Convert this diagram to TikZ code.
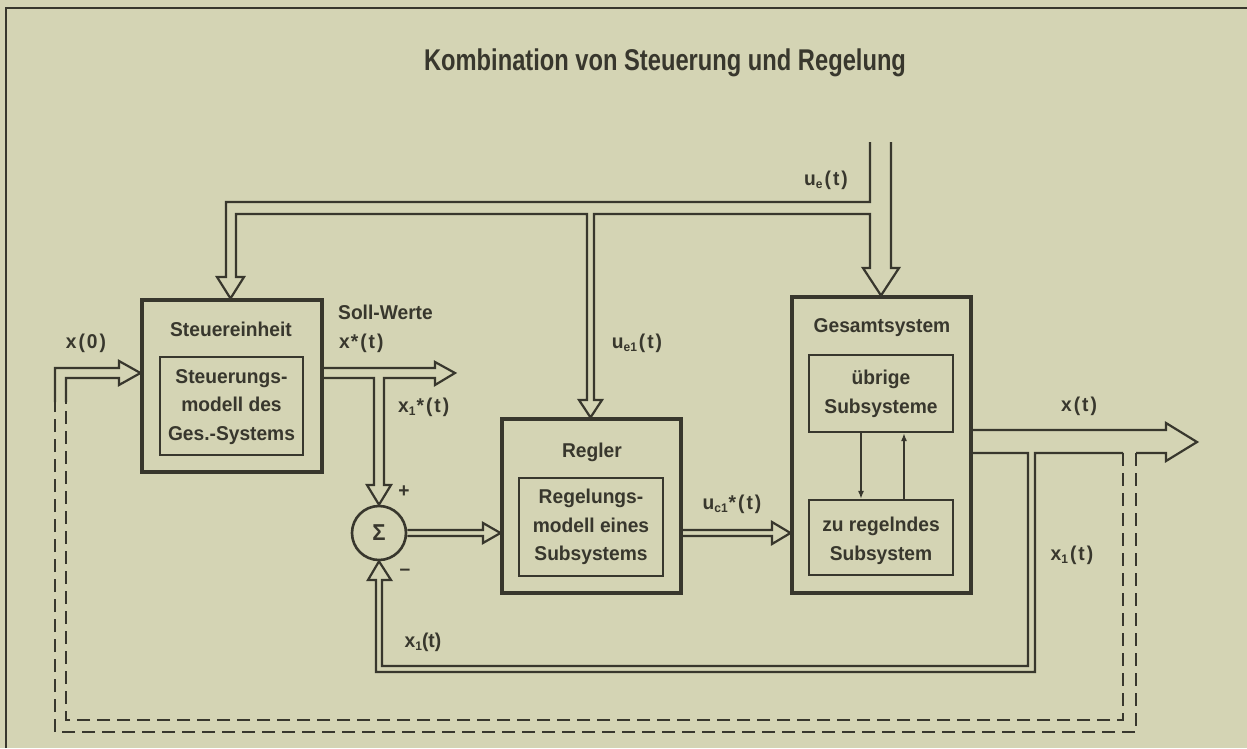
\documentclass[tikz,border=0pt]{standalone}
\usepackage{fontspec}
\setmainfont{Liberation Sans}[FakeStretch=0.96]
\newfontfamily\titlefont{Liberation Sans}[FakeStretch=0.79]
\usetikzlibrary{arrows.meta}
\definecolor{bg}{RGB}{212,212,180}
\definecolor{ink}{RGB}{56,55,45}
\newcommand\lsub[1]{\raisebox{-0.35ex}{\fontsize{12.5}{12.5}\selectfont #1}}
\newcommand\gp{\kern2pt}
\begin{document}
\begin{tikzpicture}[x=1pt,y=-1pt,
  every node/.style={text=ink, inner sep=0pt, font=\fontsize{20}{28.7}\selectfont\bfseries},
  obox/.style={draw=ink, line width=3.1pt, rectangle},
  ibox/.style={draw=ink, line width=2.1pt, rectangle},
  conn/.style={draw=ink, line width=2.2pt, line join=miter},
  dconn/.style={draw=ink, line width=2.2pt, dash pattern=on 13pt off 7pt},
  thinarr/.style={draw=ink, line width=1.6pt, -{Latex[length=8pt,width=6pt]}}]
\fill[bg] (0,0) rectangle (1247,748);
\useasboundingbox (0,0) rectangle (1247,748);
\draw[ink, line width=2.6pt] (6,748) -- (6,8) -- (1247,8);

% title
\node[anchor=base] (title) at (665,70) {\titlefont\fontsize{30}{32}\selectfont\bfseries Kombination von Steuerung und Regelung};

% Steuereinheit
\node[obox, minimum width=180pt, minimum height=172pt] (steuer) at (232,386) {};
\node[ibox, minimum width=143pt, minimum height=98pt] (steuerin) at (231.5,406) {};
\node (steuerT) at (231,329) {Steuereinheit};
\node[align=center] (steuerM) at (231.5,407) {Steuerungs-\\modell des\\Ges.-Systems};

% Regler
\node[obox, minimum width=179pt, minimum height=174pt] (regler) at (591.5,506) {};
\node[ibox, minimum width=144pt, minimum height=98pt] (reglerin) at (591,527) {};
\node (reglerT) at (592,452) {Regler};
\node[align=center] (reglerM) at (591,527) {Regelungs-\\modell eines\\Subsystems};

% Gesamtsystem
\node[obox, minimum width=179pt, minimum height=296pt] (gesamt) at (881.5,445) {};
\node[ibox, minimum width=144pt, minimum height=77pt] (uebrig) at (881,393.5) {};
\node[ibox, minimum width=144pt, minimum height=75pt] (zuregel) at (881,537.5) {};
\node (gesamtT) at (882,328) {Gesamtsystem};
\node[align=center] (uebrigT) at (881,394) {übrige\\Subsysteme};
\node[align=center] (zuregelT) at (881,541) {zu regelndes\\Subsystem};
\draw[thinarr] ([xshift=-20pt]uebrig.south) -- ([xshift=-20pt]zuregel.north);
\draw[thinarr] ([xshift=23pt]zuregel.north) -- ([xshift=23pt]uebrig.south);

% Sigma
\node[draw=ink, circle, line width=2.6pt, minimum size=54pt] (sigma) at (379,533) {\fontsize{23}{23}\selectfont Σ};
\node (plus) at (404,492) {+};
\node (minus) at (405,572) {–};

% labels
\node[anchor=west] (soll) at (338,312) {Soll-Werte};
\node[anchor=west] (xstar) at (339,343) {x\kern1pt*\gp(\gp t\gp)};
\node (x0) at (86,343) {x\gp(\gp 0\gp)};
\node[anchor=west] (x1star) at (398,407) {x\lsub{1}\kern1pt*\gp(\gp t\gp)};
\node (ue) at (826,180) {u\lsub{e}\gp(\gp t\gp)};
\node (ue1) at (637,343) {u\lsub{e1}\gp(\gp t\gp)};
\node (uc1) at (732,504) {u\lsub{c1}\kern1pt*\gp(\gp t\gp)};
\node (xt) at (1079,406) {x\gp(\gp t\gp)};
\node (x1r) at (1072,555) {x\lsub{1}\gp(\gp t\gp)};
\node (x1b) at (423,642) {x\lsub{1}(t)};

% input from top, branches to Steuereinheit, Regler, Gesamtsystem
\coordinate (inL) at (870,142);
\coordinate (inR) at (891,142);
\draw[conn] (inL) -- (870,202) -- (226,202) -- (226,277) -- (217,277) -- (steuer.north -| 230.5,0)
  -- (244,277) -- (236,277) -- (236,214) -- (587,214) -- (587,400) -- (579,400)
  -- (regler.north -| 590.5,0) -- (602,400) -- (594,400) -- (594,214) -- (870,214) -- (870,268)
  -- (863,268) -- (gesamt.north -| 881,0) -- (899,268) -- (891,268) -- (inR);

% x(0) arrow into Steuereinheit
\draw[conn] (66,402) -- (66,378) -- (119,378) -- (119,385) -- (steuer.west |- 0,373) -- (119,361) -- (119,368) -- (55,368) -- (55,402);

% x* arrow and branch to sigma
\draw[conn] (steuer.east |- 0,368) -- (435,368) -- (435,362) -- (455,373) -- (435,385) -- (435,378)
  -- (384,378) -- (384,485) -- (391,485) -- (sigma.north) -- (367,485) -- (374,485) -- (374,378) -- (steuer.east |- 0,378);

% sigma to Regler
\draw[conn] (sigma.east |- 0,530) -- (483,530) -- (483,523) -- (regler.west |- 0,533) -- (483,543) -- (483,536) -- (sigma.east |- 0,536);

% Regler to Gesamtsystem
\draw[conn] (regler.east |- 0,530) -- (772,530) -- (772,522) -- (gesamt.west |- 0,533) -- (772,544) -- (772,536) -- (regler.east |- 0,536);

% x(t) output and x1 feedback
\coordinate (xtip) at (1197,442);
\draw[conn] (gesamt.east |- 0,430) -- (1166,430) -- (1166,423) -- (xtip) -- (1166,461) -- (1166,453) -- (1136,453);
\draw[conn] (1123,453) -- (1035,453) -- (1035,672) -- (376,672) -- (376,580) -- (368,580) -- (sigma.south)
  -- (391,580) -- (382,580) -- (382,666) -- (1028,666) -- (1028,453) -- (gesamt.east |- 0,453);

% dashed feedback to x(0)
\draw[dconn] (1123,453) -- (1123,720) -- (66,720) -- (66,398);
\draw[dconn] (1136,453) -- (1136,732) -- (55,732) -- (55,398);
\end{tikzpicture}
\end{document}
